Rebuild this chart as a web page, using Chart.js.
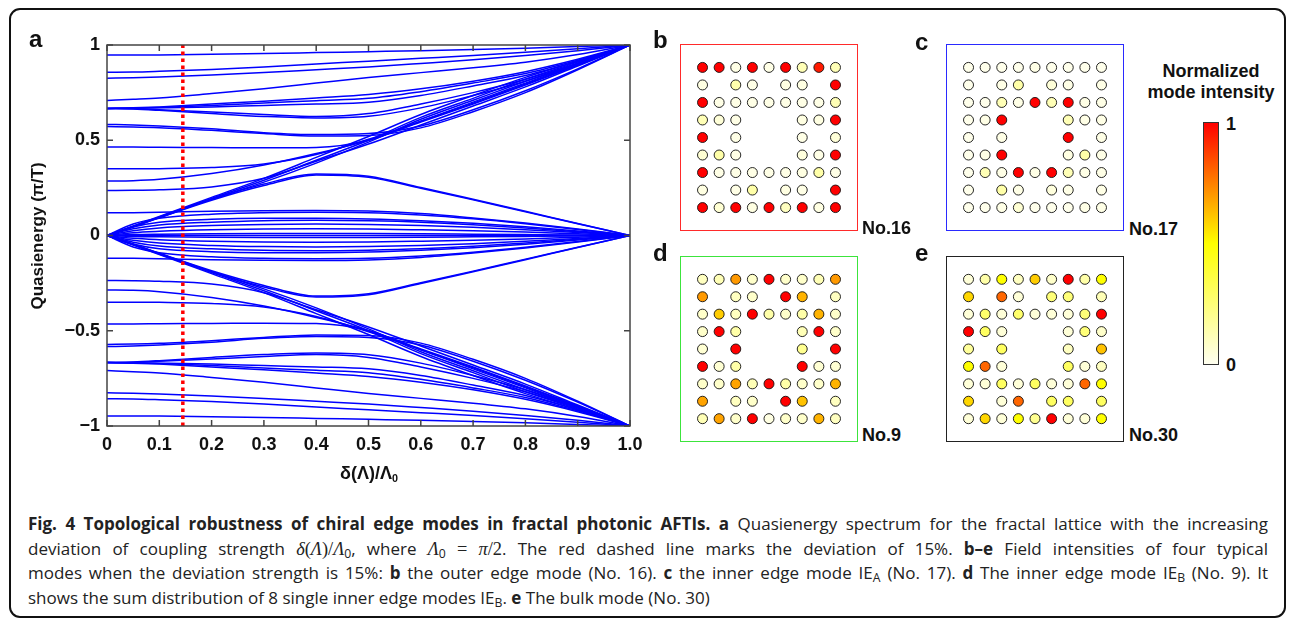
<!DOCTYPE html>
<html>
<head>
<meta charset="utf-8">
<script src="https://cdn.jsdelivr.net/npm/chart.js@4.4.1/dist/chart.umd.min.js"></script>
<style>
  body { margin: 0; background: #fff; width: 1295px; height: 623px; overflow: hidden; position: relative;
         font-family: "Liberation Sans", Arial, sans-serif; }
  canvas { position: absolute; }
  .lbl { position: absolute; font-weight: bold; line-height: 1; white-space: nowrap; color: #111; }
  #frame { position: absolute; left: 9px; top: 8px; width: 1277px; height: 610px; border: 2px solid #111;
           border-radius: 11px; box-sizing: border-box; }
  .box { position: absolute; box-sizing: border-box; border: 1.6px solid; pointer-events: none; }
  #cbar { position: absolute; left: 1203px; top: 122px; width: 16px; height: 243px; box-sizing: border-box;
          border: 1px solid #333;
          background: linear-gradient(to top, rgb(255,255,240) 0%, rgb(255,255,0) 50%, rgb(255,128,0) 75%, rgb(255,0,0) 100%); }
  #caption { position: absolute; left: 28px; top: 512px; width: 1240px; font-family: "Open Sans", "Noto Sans", sans-serif;
             font-size: 17px; line-height: 24.7px; color: #222; }
  #caption div { text-align: justify; text-align-last: justify; white-space: normal; }
  #caption div.last { text-align-last: left; }
  #caption sub { font-size: 0.72em; line-height: 0; vertical-align: -0.25em; }
  .m { font-family: "Liberation Serif", "DejaVu Serif", serif; font-style: italic; font-size: 1.08em; }
  .mr { font-family: "Liberation Serif", "DejaVu Serif", serif; font-size: 1.08em; }
  .xt sub { font-size: 0.6em; vertical-align: -0.3em; line-height: 0; }
</style>
</head>
<body>
<div id="frame"></div>

<canvas id="spectrum" width="660" height="490" style="left:0;top:0;width:660px;height:490px"></canvas>

<div class="lbl" style="left:29px;top:27px;font-size:24px">a</div>
<div class="lbl xt" style="left:340px;top:464px;font-size:18px">δ(Λ)/Λ<sub>0</sub></div>
<div class="lbl" style="left:37px;top:236px;font-size:17px;transform:translate(-50%,-50%) rotate(-90deg)">Quasienergy (π/T)</div>

<canvas id="mode16" width="178" height="187" style="left:680px;top:44px;width:178px;height:187px"></canvas>
<canvas id="mode17" width="178" height="187" style="left:946px;top:44px;width:178px;height:187px"></canvas>
<canvas id="mode9" width="178" height="186" style="left:680px;top:256px;width:178px;height:186px"></canvas>
<canvas id="mode30" width="178" height="186" style="left:946px;top:256px;width:178px;height:186px"></canvas>
<div class="box" style="left:680px;top:44px;width:178px;height:187px;border-color:#ff2a2a"></div>
<div class="box" style="left:946px;top:44px;width:178px;height:187px;border-color:#2a2aff"></div>
<div class="box" style="left:680px;top:256px;width:178px;height:186px;border-color:#3ce43c"></div>
<div class="box" style="left:946px;top:256px;width:178px;height:186px;border-color:#222"></div>

<div class="lbl" style="left:653px;top:28px;font-size:24px">b</div>
<div class="lbl" style="left:915px;top:30px;font-size:24px">c</div>
<div class="lbl" style="left:653px;top:241px;font-size:24px">d</div>
<div class="lbl" style="left:915px;top:241px;font-size:24px">e</div>
<div class="lbl" style="left:862px;top:219px;font-size:18px">No.16</div>
<div class="lbl" style="left:1129px;top:220px;font-size:18px">No.17</div>
<div class="lbl" style="left:862px;top:426px;font-size:18px">No.9</div>
<div class="lbl" style="left:1129px;top:426px;font-size:18px">No.30</div>

<div class="lbl" style="left:1211px;top:62px;font-size:18px;transform:translateX(-50%)">Normalized</div>
<div class="lbl" style="left:1211px;top:83px;font-size:18px;transform:translateX(-50%)">mode intensity</div>
<div id="cbar"></div>
<div class="lbl" style="left:1226px;top:115px;font-size:18px">1</div>
<div class="lbl" style="left:1226px;top:356px;font-size:18px">0</div>

<div id="caption">
  <div><b>Fig. 4 Topological robustness of chiral edge modes in fractal photonic AFTIs. a</b> Quasienergy spectrum for the fractal lattice with the increasing</div>
  <div>deviation of coupling strength <span class="m">δ</span><span class="mr">(</span><span class="m">Λ</span><span class="mr">)/</span><span class="m">Λ</span><sub>0</sub>, where <span class="m">Λ</span><sub>0</sub> <span class="mr">=</span> <span class="m">π</span><span class="mr">/2</span>. The red dashed line marks the deviation of 15%. <b>b–e</b> Field intensities of four typical</div>
  <div>modes when the deviation strength is 15%: <b>b</b> the outer edge mode (No. 16). <b>c</b> the inner edge mode IE<sub>A</sub> (No. 17). <b>d</b> The inner edge mode IE<sub>B</sub> (No. 9). It</div>
  <div class="last">shows the sum distribution of 8 single inner edge modes IE<sub>B</sub>. <b>e</b> The bulk mode (No. 30)</div>
</div>

<script>
// deviation δ(Λ)/Λ0 sample positions
const deviation = [0, 0.05, 0.1, 0.2, 0.3, 0.4, 0.5, 0.6, 0.7, 0.8, 0.9, 1.0];

// quasienergy bands (units of π/T)
const upperBands = [
  [0.947, 0.947, 0.948, 0.951, 0.955, 0.96, 0.965, 0.97, 0.976, 0.983, 0.992, 1.0],
  [0.857, 0.858, 0.862, 0.872, 0.885, 0.9, 0.915, 0.93, 0.945, 0.962, 0.98, 1.0],
  [0.826, 0.828, 0.832, 0.842, 0.855, 0.87, 0.885, 0.903, 0.922, 0.945, 0.97, 1.0],
  [0.709, 0.715, 0.722, 0.745, 0.77, 0.8, 0.83, 0.855, 0.88, 0.91, 0.95, 1.0],
  [0.667, 0.67, 0.675, 0.69, 0.705, 0.722, 0.74, 0.77, 0.81, 0.86, 0.925, 1.0],
  [0.667, 0.669, 0.672, 0.683, 0.695, 0.708, 0.72, 0.755, 0.8, 0.85, 0.92, 1.0],
  [0.667, 0.668, 0.67, 0.675, 0.683, 0.69, 0.70, 0.735, 0.785, 0.84, 0.915, 1.0],
  [0.667, 0.665, 0.66, 0.648, 0.635, 0.625, 0.64, 0.69, 0.75, 0.82, 0.905, 1.0],
  [0.667, 0.664, 0.657, 0.64, 0.625, 0.617, 0.626, 0.67, 0.735, 0.81, 0.9, 1.0],
  [0.583, 0.58, 0.575, 0.56, 0.54, 0.53, 0.535, 0.575, 0.66, 0.76, 0.875, 1.0],
  [0.572, 0.57, 0.566, 0.552, 0.535, 0.522, 0.525, 0.565, 0.65, 0.75, 0.87, 1.0],
  [0.464, 0.464, 0.463, 0.462, 0.46, 0.462, 0.5, 0.6, 0.7, 0.8, 0.9, 1.0],
  [0.35, 0.35, 0.351, 0.357, 0.375, 0.425, 0.505, 0.6, 0.695, 0.795, 0.895, 1.0],
  [0.286, 0.288, 0.295, 0.325, 0.37, 0.43, 0.5, 0.595, 0.69, 0.79, 0.895, 1.0],
  [0.236, 0.237, 0.24, 0.255, 0.3, 0.39, 0.48, 0.58, 0.68, 0.78, 0.89, 1.0],
  [0, 0.05, 0.1, 0.2, 0.3, 0.41, 0.52, 0.635, 0.735, 0.83, 0.915, 1.0],
  [0, 0.048, 0.097, 0.195, 0.29, 0.395, 0.5, 0.62, 0.72, 0.82, 0.91, 1.0],
  [0, 0.046, 0.094, 0.19, 0.28, 0.38, 0.49, 0.61, 0.71, 0.81, 0.905, 1.0],
  [0, 0.047, 0.095, 0.19, 0.27, 0.323, 0.311, 0.252, 0.19, 0.127, 0.063, 0],
  [0, 0.046, 0.093, 0.185, 0.262, 0.318, 0.306, 0.248, 0.187, 0.124, 0.062, 0],
  [0.119, 0.12, 0.122, 0.127, 0.13, 0.131, 0.128, 0.115, 0.092, 0.065, 0.034, 0],
  [0, 0.06, 0.09, 0.112, 0.12, 0.122, 0.12, 0.108, 0.088, 0.062, 0.032, 0],
  [0, 0.045, 0.07, 0.085, 0.09, 0.09, 0.087, 0.078, 0.064, 0.046, 0.024, 0],
  [0, 0.035, 0.055, 0.07, 0.078, 0.08, 0.077, 0.07, 0.057, 0.04, 0.02, 0],
  [0, 0.025, 0.04, 0.052, 0.058, 0.06, 0.058, 0.052, 0.043, 0.03, 0.016, 0],
  [0, 0.015, 0.022, 0.03, 0.034, 0.035, 0.034, 0.03, 0.025, 0.018, 0.009, 0],
  [0, 0.005, 0.007, 0.009, 0.01, 0.01, 0.01, 0.009, 0.007, 0.005, 0.003, 0]
];
const zeroBand = [0, 0, 0, 0, 0, 0, 0, 0, 0, 0, 0, 0];
const lowerBands = [
  [-0.947, -0.947, -0.948, -0.951, -0.955, -0.96, -0.965, -0.97, -0.976, -0.983, -0.992, -1.0],
  [-0.857, -0.858, -0.862, -0.872, -0.885, -0.9, -0.915, -0.93, -0.945, -0.962, -0.98, -1.0],
  [-0.826, -0.828, -0.832, -0.842, -0.855, -0.87, -0.885, -0.903, -0.922, -0.945, -0.97, -1.0],
  [-0.709, -0.715, -0.722, -0.745, -0.77, -0.8, -0.83, -0.855, -0.88, -0.91, -0.95, -1.0],
  [-0.667, -0.67, -0.675, -0.69, -0.705, -0.722, -0.74, -0.77, -0.81, -0.86, -0.925, -1.0],
  [-0.667, -0.669, -0.672, -0.683, -0.695, -0.708, -0.72, -0.755, -0.8, -0.85, -0.92, -1.0],
  [-0.667, -0.668, -0.67, -0.675, -0.683, -0.69, -0.70, -0.735, -0.785, -0.84, -0.915, -1.0],
  [-0.667, -0.665, -0.66, -0.648, -0.635, -0.625, -0.64, -0.69, -0.75, -0.82, -0.905, -1.0],
  [-0.667, -0.664, -0.657, -0.64, -0.625, -0.617, -0.626, -0.67, -0.735, -0.81, -0.9, -1.0],
  [-0.583, -0.58, -0.575, -0.56, -0.54, -0.53, -0.535, -0.575, -0.66, -0.76, -0.875, -1.0],
  [-0.572, -0.57, -0.566, -0.552, -0.535, -0.522, -0.525, -0.565, -0.65, -0.75, -0.87, -1.0],
  [-0.464, -0.464, -0.463, -0.462, -0.46, -0.462, -0.5, -0.6, -0.7, -0.8, -0.9, -1.0],
  [-0.35, -0.35, -0.351, -0.357, -0.375, -0.425, -0.505, -0.6, -0.695, -0.795, -0.895, -1.0],
  [-0.286, -0.288, -0.295, -0.325, -0.37, -0.43, -0.5, -0.595, -0.69, -0.79, -0.895, -1.0],
  [-0.236, -0.237, -0.24, -0.255, -0.3, -0.39, -0.48, -0.58, -0.68, -0.78, -0.89, -1.0],
  [0, -0.05, -0.1, -0.2, -0.3, -0.41, -0.52, -0.635, -0.735, -0.83, -0.915, -1.0],
  [0, -0.048, -0.097, -0.195, -0.29, -0.395, -0.5, -0.62, -0.72, -0.82, -0.91, -1.0],
  [0, -0.046, -0.094, -0.19, -0.28, -0.38, -0.49, -0.61, -0.71, -0.81, -0.905, -1.0],
  [0, -0.047, -0.095, -0.19, -0.27, -0.323, -0.311, -0.252, -0.19, -0.127, -0.063, 0],
  [0, -0.046, -0.093, -0.185, -0.262, -0.318, -0.306, -0.248, -0.187, -0.124, -0.062, 0],
  [-0.119, -0.12, -0.122, -0.127, -0.13, -0.131, -0.128, -0.115, -0.092, -0.065, -0.034, 0],
  [0, -0.06, -0.09, -0.112, -0.12, -0.122, -0.12, -0.108, -0.088, -0.062, -0.032, 0],
  [0, -0.045, -0.07, -0.085, -0.09, -0.09, -0.087, -0.078, -0.064, -0.046, -0.024, 0],
  [0, -0.035, -0.055, -0.07, -0.078, -0.08, -0.077, -0.07, -0.057, -0.04, -0.02, 0],
  [0, -0.025, -0.04, -0.052, -0.058, -0.06, -0.058, -0.052, -0.043, -0.03, -0.016, 0],
  [0, -0.015, -0.022, -0.03, -0.034, -0.035, -0.034, -0.03, -0.025, -0.018, -0.009, 0],
  [0, -0.005, -0.007, -0.009, -0.01, -0.01, -0.01, -0.009, -0.007, -0.005, -0.003, 0]
];

// marked deviation (15%)
const markedDeviation = 0.145;
const xTicks = [0, 0.1, 0.2, 0.3, 0.4, 0.5, 0.6, 0.7, 0.8, 0.9, 1.0];
const yTicks = [-1, -0.5, 0, 0.5, 1];

// normalized mode intensities on the 9x9 fractal lattice (null = no site), rows top to bottom
const mode16 = [
  [1, 1, 0.02, 1, 0.02, 1, 0.12, 0.95, 0.12],
  [0.03, null, 0.14, 0.02, null, 0.03, 0.03, null, 1],
  [1, 0.02, 0.02, 0.02, 0.02, 0.02, 0.02, 0.02, 0.12],
  [0.12, 0.05, 0.02, null, null, null, 0.03, 0.03, 1],
  [1, null, 0.02, null, null, null, 0.02, null, 0.05],
  [0.06, 0.15, 0.02, null, null, null, 0.04, 0.02, 1],
  [1, 0.02, 0.02, 0.02, 0.02, 0.02, 0.03, 0.15, 0.02],
  [0.03, null, 0.02, 0.15, null, 0.03, 0.02, null, 1],
  [1, 0.06, 1, 0.03, 1, 0.1, 1, 0.03, 1]
];
const mode17 = [
  [0.01, 0.01, 0.01, 0.01, 0.02, 0.01, 0.01, 0.01, 0.01],
  [0.01, null, 0.02, 0.15, null, 0.05, 0.02, null, 0.02],
  [0.01, 0.01, 0.12, 0.02, 1, 0.12, 1, 0.02, 0.02],
  [0.01, 0.02, 1, null, null, null, 0.12, 0.02, 0.02],
  [0.01, null, 0.02, null, null, null, 1, null, 0.02],
  [0.01, 0.02, 1, null, null, null, 0.03, 0.15, 0.02],
  [0.01, 0.12, 0.02, 1, 0.02, 1, 0.12, 0.02, 0.02],
  [0.01, null, 0.15, 0.02, null, 0.04, 0.02, null, 0.02],
  [0.01, 0.01, 0.02, 0.06, 0.01, 0.01, 0.01, 0.02, 0.02]
];
const mode9 = [
  [0.1, 0.12, 0.7, 0.08, 1, 0.08, 0.08, 0.12, 0.7],
  [0.7, null, 0.1, 0.08, null, 1, 0.65, null, 0.1],
  [0.08, 0.6, 0.1, 1, 0.15, 0.08, 0.15, 0.65, 0.08],
  [0.08, 1, 0.15, null, null, null, 0.12, 1, 0.08],
  [0.06, null, 1, null, null, null, 0.2, null, 1],
  [1, 0.06, 0.15, null, null, null, 1, 0.06, 0.06],
  [0.08, 0.08, 0.68, 0.12, 1, 0.15, 0.08, 0.08, 0.65],
  [0.68, null, 0.1, 0.08, null, 1, 0.62, null, 0.1],
  [0.12, 0.68, 0.08, 1, 0.03, 0.08, 0.08, 0.65, 0.1]
];
const mode30 = [
  [0.05, 0.15, 0.5, 0.1, 0.6, 0.08, 1, 0.15, 0.5],
  [0.58, null, 0.8, 0.05, null, 0.25, 0.25, null, 0.12],
  [0.05, 0.28, 0.05, 0.28, 0.05, 0.05, 0.05, 0.25, 1],
  [1, 0.3, 0.05, null, null, null, 0.05, 0.25, 0.08],
  [0.18, null, 0.3, null, null, null, 0.1, null, 0.62],
  [0.5, 0.8, 0.05, null, null, null, 0.3, 0.05, 0.1],
  [0.05, 0.05, 0.3, 0.05, 0.3, 0.05, 0.05, 0.8, 0.5],
  [0.58, null, 0.05, 0.8, null, 0.3, 0.3, null, 0.3],
  [0.05, 0.58, 0.05, 0.5, 0.2, 1, 0.05, 0.05, 0.5]
];

/**
 * Maps a normalized intensity to the white-yellow-red colour scale
 */
function heatColor(t) {
  if (t <= 0.5) {
    const b = Math.round(240 * (1 - t / 0.5));
    return `rgb(255,255,${b})`;
  }
  const g = Math.round(255 * (1 - (t - 0.5) / 0.5));
  return `rgb(255,${g},0)`;
}

function bandDataset(values) {
  return {
    data: deviation.map((x, i) => ({ x: x, y: values[i] })),
    showLine: true,
    borderColor: '#0000ff',
    borderWidth: 1.5,
    pointRadius: 0,
    cubicInterpolationMode: 'monotone',
    order: 1
  };
}

// inward ticks and the box around the plot
const frameTicks = {
  id: 'frameTicks',
  afterDraw(chart) {
    const { ctx, chartArea: a, scales } = chart;
    ctx.save();
    ctx.strokeStyle = '#444';
    ctx.lineWidth = 1.5;
    ctx.strokeRect(a.left, a.top, a.right - a.left, a.bottom - a.top);
    ctx.beginPath();
    xTicks.forEach(v => {
      const px = scales.x.getPixelForValue(v);
      ctx.moveTo(px, a.bottom); ctx.lineTo(px, a.bottom - 6);
      ctx.moveTo(px, a.top); ctx.lineTo(px, a.top + 6);
    });
    yTicks.forEach(v => {
      const py = scales.y.getPixelForValue(v);
      ctx.moveTo(a.left, py); ctx.lineTo(a.left + 6, py);
      ctx.moveTo(a.right, py); ctx.lineTo(a.right - 6, py);
    });
    ctx.stroke();
    ctx.restore();
  }
};

const tickFont = { family: '"Liberation Sans", Arial, sans-serif', size: 18, weight: 'bold' };

const bandSets = [...upperBands, zeroBand, ...lowerBands].map(bandDataset);

new Chart(document.getElementById('spectrum'), {
  type: 'scatter',
  data: {
    datasets: [
      {
        data: [{ x: markedDeviation, y: -1 }, { x: markedDeviation, y: 1 }],
        showLine: true,
        borderColor: '#ff0000',
        borderWidth: 3.5,
        borderDash: [3.5, 3.5],
        pointRadius: 0,
        order: 0
      },
      ...bandSets
    ]
  },
  options: {
    responsive: false,
    animation: false,
    devicePixelRatio: 1,
    layout: { padding: { left: 0, top: 45, right: 30, bottom: 0 } },
    plugins: { legend: { display: false }, tooltip: { enabled: false } },
    scales: {
      x: {
        type: 'linear', min: 0, max: 1,
        afterFit(scale) { scale.height = 64; },
        afterBuildTicks(scale) { scale.ticks = xTicks.map(v => ({ value: v })); },
        grid: { display: false, drawTicks: false },
        border: { display: false },
        ticks: {
          padding: 8, color: '#111', font: tickFont, autoSkip: false, maxRotation: 0,
          callback: v => (v === 0 ? '0' : v.toFixed(1))
        }
      },
      y: {
        type: 'linear', min: -1, max: 1,
        afterFit(scale) { scale.width = 107; },
        afterBuildTicks(scale) { scale.ticks = yTicks.map(v => ({ value: v })); },
        grid: { display: false, drawTicks: false },
        border: { display: false },
        ticks: {
          padding: 7, color: '#111', font: tickFont,
          callback: v => (v < 0 ? '\u2212' + String(-v) : String(v))
        }
      }
    }
  },
  plugins: [frameTicks]
});

// lattice panels
function latticePoints(grid) {
  const pts = [];
  grid.forEach((row, r) => row.forEach((v, c) => {
    if (v !== null) pts.push({ x: c, y: 8 - r, v: v });
  }));
  return pts;
}

function renderLattice(id, grid) {
  const pts = latticePoints(grid);
  new Chart(document.getElementById(id), {
    type: 'scatter',
    data: {
      datasets: [{
        data: pts,
        pointRadius: 5,
        pointBorderWidth: 0.9,
        pointBorderColor: '#111',
        pointBackgroundColor: pts.map(p => heatColor(p.v))
      }]
    },
    options: {
      responsive: false,
      animation: false,
      devicePixelRatio: 1,
      layout: { padding: 0 },
      plugins: { legend: { display: false }, tooltip: { enabled: false } },
      scales: {
        x: { type: 'linear', min: -1, max: 9, display: false },
        y: { type: 'linear', min: -1, max: 9, display: false }
      }
    }
  });
}

renderLattice('mode16', mode16);
renderLattice('mode17', mode17);
renderLattice('mode9', mode9);
renderLattice('mode30', mode30);
</script>
</body>
</html>
